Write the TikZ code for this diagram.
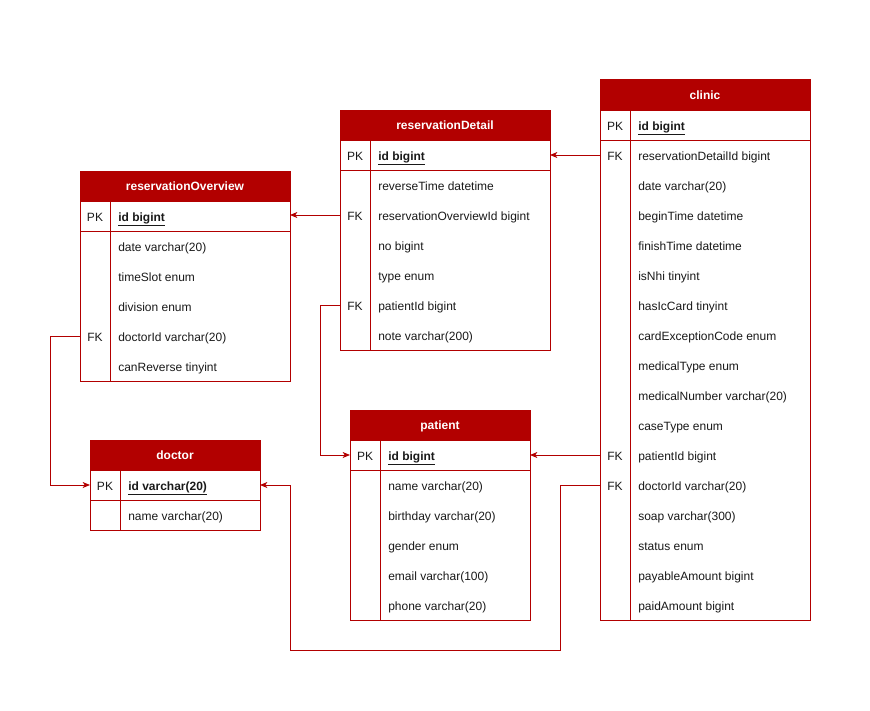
\documentclass[tikz,border=0pt]{standalone}
\usepackage{fontspec}
\setmainfont{Liberation Sans}
\usetikzlibrary{arrows.meta}
\definecolor{erred}{HTML}{B20000}

\begin{document}
\begin{tikzpicture}[x=0.75pt, y=-0.75pt, font=\fontsize{9}{11}\selectfont,
        tblhead/.style={draw=erred, line width=0.75pt, fill=erred, text=white, font=\fontsize{9}{11}\selectfont\bfseries, minimum height=22.5pt, inner sep=0pt, outer sep=0pt, text height=8.3pt, text depth=1pt},
        tblrow/.style={minimum height=22.5pt, inner sep=0pt, outer sep=0pt},
        keytext/.style={text=black!90, inner sep=0pt, text height=8.5pt, text depth=1pt},
        fieldtext/.style={anchor=west, text=black!90, inner sep=0pt, text height=8.5pt, text depth=1pt},
        pktext/.style={font=\fontsize{9}{11}\selectfont\bfseries},
        tblline/.style={draw=erred, line width=0.75pt},
        fk/.style={draw=erred, line width=0.75pt, -{Stealth[length=5.5pt, width=4.5pt, inset=1.5pt]}}]
        \useasboundingbox (0,0) rectangle (870,710);

        \node[tblhead, minimum width=157.5pt] (clinic) at (705,95) {clinic};
        \node[tblrow, minimum width=157.5pt] (clinic0) at (705,125) {};
        \node[keytext] (clinic-k0) at ([xshift=11.25pt]clinic0.west) {PK};
        \node[fieldtext, pktext] (clinic-f0) at ([xshift=28.5pt]clinic0.west) {\underline{id bigint}};
        \foreach \k/\f [count=\i] in {FK/reservationDetailId bigint, /date varchar(20), /beginTime datetime, /finishTime datetime, /isNhi tinyint, /hasIcCard tinyint, /cardExceptionCode enum, /medicalType enum, /medicalNumber varchar(20), /caseType enum, FK/patientId bigint, FK/doctorId varchar(20), /soap varchar(300), /status enum, /payableAmount bigint, /paidAmount bigint} {
            \node[tblrow, minimum width=157.5pt] (clinic\i) at (705,{125+30*\i}) {};
            \node[keytext] (clinic-k\i) at ([xshift=11.25pt]clinic\i.west) {\k};
            \node[fieldtext] (clinic-f\i) at ([xshift=28.5pt]clinic\i.west) {\f};
        }
        \draw[tblline] (clinic.south west) rectangle (clinic16.south east);
        \draw[tblline] (clinic0.south west) -- (clinic0.south east);
        \draw[tblline] ([xshift=22.5pt]clinic0.north west) -- ([xshift=22.5pt]clinic16.south west);

        \node[tblhead, minimum width=157.5pt] (detail) at (445,125) {reservationDetail};
        \node[tblrow, minimum width=157.5pt] (detail0) at (445,155) {};
        \node[keytext] (detail-k0) at ([xshift=11.25pt]detail0.west) {PK};
        \node[fieldtext, pktext] (detail-f0) at ([xshift=28.5pt]detail0.west) {\underline{id bigint}};
        \foreach \k/\f [count=\i] in {/reverseTime datetime, FK/reservationOverviewId bigint, /no bigint, /type enum, FK/patientId bigint, /note varchar(200)} {
            \node[tblrow, minimum width=157.5pt] (detail\i) at (445,{155+30*\i}) {};
            \node[keytext] (detail-k\i) at ([xshift=11.25pt]detail\i.west) {\k};
            \node[fieldtext] (detail-f\i) at ([xshift=28.5pt]detail\i.west) {\f};
        }
        \draw[tblline] (detail.south west) rectangle (detail6.south east);
        \draw[tblline] (detail0.south west) -- (detail0.south east);
        \draw[tblline] ([xshift=22.5pt]detail0.north west) -- ([xshift=22.5pt]detail6.south west);

        \node[tblhead, minimum width=157.5pt] (overview) at (185,186) {reservationOverview};
        \node[tblrow, minimum width=157.5pt] (overview0) at (185,216) {};
        \node[keytext] (overview-k0) at ([xshift=11.25pt]overview0.west) {PK};
        \node[fieldtext, pktext] (overview-f0) at ([xshift=28.5pt]overview0.west) {\underline{id bigint}};
        \foreach \k/\f [count=\i] in {/date varchar(20), /timeSlot enum, /division enum, FK/doctorId varchar(20), /canReverse tinyint} {
            \node[tblrow, minimum width=157.5pt] (overview\i) at (185,{216+30*\i}) {};
            \node[keytext] (overview-k\i) at ([xshift=11.25pt]overview\i.west) {\k};
            \node[fieldtext] (overview-f\i) at ([xshift=28.5pt]overview\i.west) {\f};
        }
        \draw[tblline] (overview.south west) rectangle (overview5.south east);
        \draw[tblline] (overview0.south west) -- (overview0.south east);
        \draw[tblline] ([xshift=22.5pt]overview0.north west) -- ([xshift=22.5pt]overview5.south west);

        \node[tblhead, minimum width=127.5pt] (doctor) at (175,455) {doctor};
        \node[tblrow, minimum width=127.5pt] (doctor0) at (175,485) {};
        \node[keytext] (doctor-k0) at ([xshift=11.25pt]doctor0.west) {PK};
        \node[fieldtext, pktext] (doctor-f0) at ([xshift=28.5pt]doctor0.west) {\underline{id varchar(20)}};
        \node[tblrow, minimum width=127.5pt] (doctor1) at (175,515) {};
        \node[fieldtext] (doctor-f1) at ([xshift=28.5pt]doctor1.west) {name varchar(20)};
        \draw[tblline] (doctor.south west) rectangle (doctor1.south east);
        \draw[tblline] (doctor0.south west) -- (doctor0.south east);
        \draw[tblline] ([xshift=22.5pt]doctor0.north west) -- ([xshift=22.5pt]doctor1.south west);

        \node[tblhead, minimum width=135pt] (patient) at (440,425) {patient};
        \node[tblrow, minimum width=135pt] (patient0) at (440,455) {};
        \node[keytext] (patient-k0) at ([xshift=11.25pt]patient0.west) {PK};
        \node[fieldtext, pktext] (patient-f0) at ([xshift=28.5pt]patient0.west) {\underline{id bigint}};
        \foreach \f [count=\i] in {name varchar(20), birthday varchar(20), gender enum, email varchar(100), phone varchar(20)} {
            \node[tblrow, minimum width=135pt] (patient\i) at (440,{455+30*\i}) {};
            \node[fieldtext] (patient-f\i) at ([xshift=28.5pt]patient\i.west) {\f};
        }
        \draw[tblline] (patient.south west) rectangle (patient5.south east);
        \draw[tblline] (patient0.south west) -- (patient0.south east);
        \draw[tblline] ([xshift=22.5pt]patient0.north west) -- ([xshift=22.5pt]patient5.south west);

        \draw[fk] (clinic1.west) -- (detail0.east);
        \draw[fk] (detail2.west) -- (overview0.east |- detail2.west);
        \draw[fk] (detail5.west) -- ++(-20,0) |- (patient0.west);
        \draw[fk] (overview4.west) -- ++(-30,0) |- (doctor0.west);
        \draw[fk] (clinic11.west) -- (patient0.east);
        \draw[fk] (clinic12.west) -- ++(-40,0) -- ++(0,165) -| ([xshift=22.5pt]doctor0.east) -- (doctor0.east);
    \end{tikzpicture}
\end{document}
